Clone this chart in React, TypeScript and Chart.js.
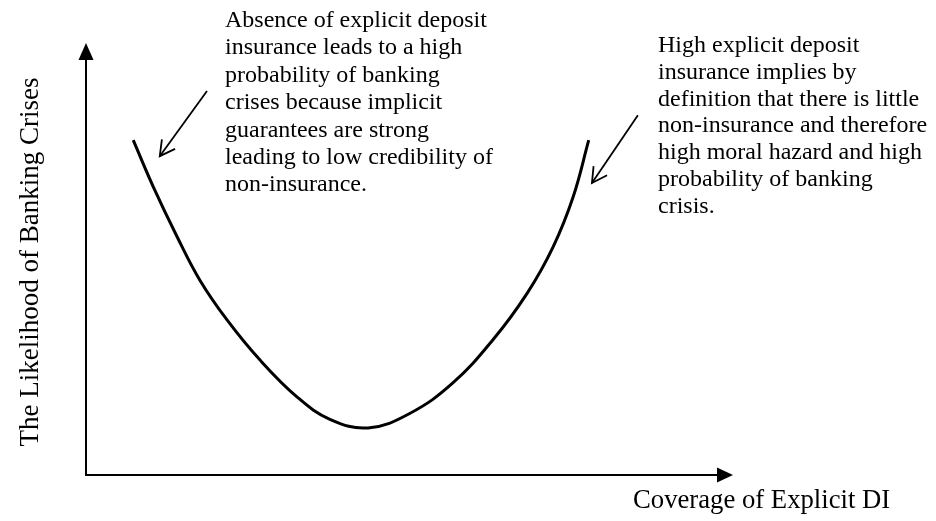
import React, { useEffect, useRef } from "react";
import { Chart, registerables } from "chart.js";

Chart.register(...registerables);

// Coverage of explicit DI (x, 0-100) and likelihood of banking crises (y, 0-100)
const coverage = [7.3, 10.4, 14.1, 17.6, 21.8, 26.9, 32.6, 37.7, 43.6, 50.1, 56.7, 62.9, 68.2, 72.2, 75.3, 77.7];
const likelihood = [77.5, 66.7, 55.1, 45.1, 35.9, 26.6, 18.1, 12.9, 10.9, 14.3, 21.3, 31.3, 42.1, 52.8, 64.4, 77.5];

const xAxisTitle = "Coverage of Explicit DI";
const yAxisTitle = "The Likelihood of Banking Crises";

const leftNote = [
  "Absence of explicit deposit",
  "insurance leads to a high",
  "probability of banking",
  "crises because implicit",
  "guarantees are strong",
  "leading to low credibility of",
  "non-insurance.",
];
const rightNote = [
  "High explicit deposit",
  "insurance implies by",
  "definition that there is little",
  "non-insurance and therefore",
  "high moral hazard and high",
  "probability of banking",
  "crisis.",
];

// annotation arrows in data coordinates: [tailX, tailY, tipX, tipY]
const leftArrow = [18.7, 88.9, 11.4, 73.8];
const rightArrow = [85.3, 83.3, 78.2, 67.6];

const SERIF = '"Liberation Serif", "Times New Roman", serif';

const diagramPlugin = {
  id: "diagram",
  afterDraw(chart: any) {
    const ctx = chart.ctx as CanvasRenderingContext2D;
    const { left, right, top, bottom } = chart.chartArea;
    const xs = chart.scales.x;
    const ys = chart.scales.y;
    ctx.save();
    ctx.strokeStyle = "#000";
    ctx.fillStyle = "#000";
    ctx.lineWidth = 2;
    ctx.lineCap = "butt";

    // y axis with arrow
    ctx.beginPath();
    ctx.moveTo(left, bottom + 1);
    ctx.lineTo(left, top + 14);
    ctx.stroke();
    ctx.beginPath();
    ctx.moveTo(left, top);
    ctx.lineTo(left - 7.5, top + 17);
    ctx.lineTo(left + 7.5, top + 17);
    ctx.closePath();
    ctx.fill();

    // x axis with arrow
    ctx.beginPath();
    ctx.moveTo(left - 1, bottom);
    ctx.lineTo(right - 14, bottom);
    ctx.stroke();
    ctx.beginPath();
    ctx.moveTo(right, bottom);
    ctx.lineTo(right - 16, bottom - 7.5);
    ctx.lineTo(right - 16, bottom + 7.5);
    ctx.closePath();
    ctx.fill();

    // annotation arrows (open heads)
    const drawArrow = (a: number[]) => {
      const x1 = xs.getPixelForValue(a[0]);
      const y1 = ys.getPixelForValue(a[1]);
      const x2 = xs.getPixelForValue(a[2]);
      const y2 = ys.getPixelForValue(a[3]);
      ctx.lineWidth = 1.8;
      ctx.beginPath();
      ctx.moveTo(x1, y1);
      ctx.lineTo(x2, y2);
      ctx.stroke();
      const ang = Math.atan2(y2 - y1, x2 - x1);
      const len = 17;
      const spread = 0.5;
      ctx.beginPath();
      ctx.moveTo(x2 - len * Math.cos(ang - spread), y2 - len * Math.sin(ang - spread));
      ctx.lineTo(x2, y2);
      ctx.lineTo(x2 - len * Math.cos(ang + spread), y2 - len * Math.sin(ang + spread));
      ctx.stroke();
    };
    drawArrow(leftArrow);
    drawArrow(rightArrow);

    // annotation texts
    ctx.textAlign = "left";
    ctx.textBaseline = "alphabetic";
    ctx.font = `24px ${SERIF}`;
    leftNote.forEach((t, i) => ctx.fillText(t, 225, 27 + i * 27.4));
    rightNote.forEach((t, i) => ctx.fillText(t, 658, 52 + i * 26.8));

    // axis titles
    ctx.font = `26.7px ${SERIF}`;
    ctx.fillText(xAxisTitle, 633, 508);
    ctx.save();
    ctx.translate(38, 262);
    ctx.rotate(-Math.PI / 2);
    ctx.textAlign = "center";
    ctx.font = `27px ${SERIF}`;
    ctx.fillText(yAxisTitle, 0, 0);
    ctx.restore();

    ctx.restore();
  },
};

export default function App() {
  const canvasRef = useRef<HTMLCanvasElement | null>(null);

  useEffect(() => {
    document.body.style.margin = "0";
    const canvas = canvasRef.current;
    if (!canvas) return;
    const chart = new Chart(canvas, {
      type: "scatter",
      data: {
        datasets: [
          {
            data: coverage.map((x, i) => ({ x, y: likelihood[i] })),
            showLine: true,
            borderColor: "#000",
            borderWidth: 3,
            pointRadius: 0,
            tension: 0.4,
            fill: false,
          },
        ],
      },
      options: {
        responsive: false,
        animation: false,
        events: [],
        layout: { padding: { left: 86, right: 203, top: 43, bottom: 46 } },
        plugins: {
          legend: { display: false },
          tooltip: { enabled: false },
          title: { display: false },
        },
        scales: {
          x: { type: "linear", min: 0, max: 100, display: false },
          y: { type: "linear", min: 0, max: 100, display: false },
        },
      },
      plugins: [diagramPlugin],
    });
    return () => chart.destroy();
  }, []);

  return (
    <div style={{ width: 936, height: 521, background: "#fff" }}>
      <canvas ref={canvasRef} width={936} height={521} style={{ display: "block" }} />
    </div>
  );
}
